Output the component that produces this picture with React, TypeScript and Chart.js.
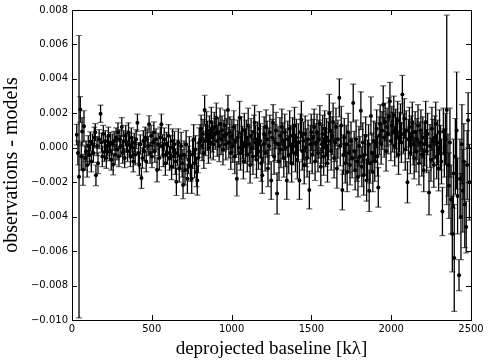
import React, { useEffect, useRef } from "react";
import { Chart, registerables } from "chart.js";

Chart.register(...registerables);

// deprojected baseline [kλ]
const baselines: number[] = [
  30, 37, 44, 52, 58, 63, 69, 75, 82, 88, 95, 102,
  108, 115, 121, 128, 134, 140, 146, 150, 157, 163,
  170, 179, 185, 190, 196, 203, 209, 215, 222, 228,
  234, 240, 246, 252, 258, 264, 270, 276, 282, 288,
  294, 300, 306, 312, 318, 324, 330, 336, 342, 348,
  354, 360, 366, 372, 378, 384, 390, 396, 402, 410,
  416, 422, 428, 435, 441, 447, 453, 459, 465, 471,
  477, 483, 489, 495,
  501, 507, 513, 519, 526, 533, 540, 547, 553, 560,
  566, 572, 578, 585, 592, 598, 605, 611, 618, 624,
  630, 636, 642, 648, 654, 660, 666, 672, 678, 684,
  690, 696, 702, 708, 715, 723, 729, 735, 742, 750,
  756, 762, 768, 774, 780, 785, 791, 797,
  803, 809, 815, 821, 826, 831, 837, 843, 849, 855,
  861, 867, 873, 879, 885, 891, 897, 904, 910, 916,
  922, 928, 934, 940, 946, 952, 958, 964, 970, 977,
  983, 989, 995,
  1002, 1008, 1014, 1020, 1026, 1033, 1039, 1045, 1050, 1056,
  1062, 1068, 1074, 1080, 1086, 1092, 1098, 1104, 1110, 1116,
  1122, 1128, 1134, 1140, 1144, 1150, 1156, 1162, 1168, 1174,
  1180, 1186, 1192, 1198, 1204, 1210, 1216, 1222, 1228, 1234,
  1240, 1248, 1254, 1260, 1266, 1272, 1278, 1285, 1291, 1297,
  1303, 1309, 1315, 1321, 1327, 1333, 1339, 1346, 1352, 1358,
  1364, 1370, 1376, 1382, 1388, 1394, 1400, 1406, 1412, 1418,
  1425, 1431, 1437, 1443, 1449, 1455, 1461, 1467, 1473, 1479,
  1487, 1493, 1499,
  1505, 1511, 1517, 1523, 1529, 1535, 1541, 1547, 1553, 1559,
  1565, 1571, 1577, 1583, 1589, 1595, 1601, 1607, 1612, 1618,
  1624, 1630, 1636, 1642, 1648, 1654, 1660, 1666, 1675, 1681,
  1687, 1694, 1700,
  1706, 1712, 1718, 1724, 1730, 1736, 1742, 1748, 1755, 1762,
  1768, 1774, 1780, 1786, 1792, 1798, 1804, 1810, 1816, 1822,
  1828, 1834, 1840, 1846, 1852, 1858, 1862, 1868, 1873, 1879,
  1885, 1891, 1897,
  1903, 1909, 1914, 1919, 1925, 1931, 1937, 1943, 1950, 1956,
  1962, 1968, 1974, 1980, 1986, 1992, 1998, 2004, 2010, 2016,
  2022, 2028, 2034, 2040, 2046, 2052, 2058, 2064, 2070, 2076,
  2082, 2088, 2094, 2102, 2108, 2114, 2120, 2126, 2132, 2138,
  2144,
  2150, 2156, 2162, 2168, 2174, 2180, 2186, 2192, 2198, 2204,
  2210, 2216, 2222, 2228, 2237, 2243, 2249, 2255, 2261, 2267,
  2273, 2279, 2285, 2291, 2297, 2303, 2309, 2315, 2321, 2327,
  2333, 2340,
  2348, 2356, 2362, 2368, 2375, 2383, 2390, 2395, 2402, 2410,
  2416, 2425, 2431, 2437, 2443, 2449, 2455, 2461, 2470, 2476,
  2482, 2490,
];

// observations - models, in units of 1e-3
const residualsE3: number[] = [
  0.76, -0.3, -1.68, 2.22, -0.5, 0.95, -1.28, 1.25, -0.6, -0.2, -1.0, 0.1,
  -0.4, 0.37, -0.8, 0.2, -0.3, 0.6, 0.9, -1.6, 0.1, -0.9,
  0.5, 1.98, 0.3, -0.5, 0.8, -0.24, 0.4, -0.6, 0.1, 0.7,
  -0.2, 0.3, -0.7, 0.2, -0.97, 0.4, -0.4, 0.6, -0.1, 0.9,
  -0.5, 0.5, 0.1, 1.2, -0.3, 0.4, -0.6, 0.7, 0.3, -0.2,
  0.9, 0.2, -0.5, 0.6, 0.0, -0.8, 0.3, -0.4, 0.5, 1.45,
  -0.3, -1.0, 0.2, -1.76, -0.6, 0.4, -0.2, 0.6, -0.8, 0.5,
  0.1, 1.36, -0.3, 0.7,
  -0.5, 0.3, 0.9, -0.2, 0.5, -1.28, 0.2, -0.6, 0.6, 1.36,
  0.1, -0.4, 0.5, -0.9, 0.2, -0.3, 0.7, -0.6, 0.0, -1.1,
  0.4, -0.5, 0.2, -0.8, -1.97, -0.3, 0.3, -1.2, -0.5, 0.1,
  -0.9, -2.16, -0.4, -1.3, 0.2, -1.8, -0.7, -0.2, -1.1, -1.8,
  -0.4, 0.5, -0.9, -0.1, -1.4, -1.9, -0.6, 0.3,
  0.5, 1.1, 0.1, 0.8, -0.3, 2.2, 0.4, 1.3, 0.7, 0.0,
  1.0, 0.3, 1.5, 0.6, 0.2, 1.2, 0.8, 1.75, 0.4, 0.9,
  0.1, 1.4, 0.5, 1.0, -0.1, 0.7, 1.3, 0.2, 0.8, 2.2,
  0.3, 0.9, -0.3,
  0.7, 0.1, 1.2, -0.5, 0.4, -1.8, 0.6, 0.0, 1.75, -0.3,
  0.8, 0.3, -0.8, 1.0, 0.1, 0.6, -0.4, 1.3, 0.2, -1.0,
  0.7, 0.0, -0.5, 0.9, 1.46, 0.3, -0.7, 0.5, -0.2, 1.1,
  0.4, -0.9, -1.6, 0.2, 0.8, -0.3, 1.2, 0.5, -1.2, 0.1,
  0.9, -1.9, 0.6, 1.46, -0.5, 0.3, 1.0, -2.65, 0.2, -0.8,
  0.7, -0.1, 1.2, 0.4, -0.6, 0.9, 0.0, -1.9, 0.5, -0.4,
  1.1, 0.2, -0.9, 0.7, 0.1, 1.3, -0.3, 0.6, -0.7, 0.3,
  -1.9, 0.9, 1.64, -0.2, 0.4, -1.0, 0.8, 0.0, -0.6, 0.5,
  -2.45, 0.2, 0.9,
  -0.4, 0.6, 1.2, -0.8, 0.3, 0.9, -0.3, 0.5, 1.4, -1.1,
  0.2, 0.8, -0.5, 1.1, 0.0, 0.6, -0.9, 0.4, 2.0, 1.0,
  -0.2, 0.7, 1.5, -0.6, 0.3, 1.2, -1.2, 0.5, 2.9, 0.1,
  1.3, -2.45, -0.4,
  0.6, -0.9, 0.2, -1.4, 0.9, -0.3, -1.0, 0.4, -0.6, 2.6,
  -0.2, -1.3, 0.5, -0.8, -1.7, 0.1, -0.5, 2.15, -1.1, 0.3,
  -1.6, -0.4, 0.7, -1.9, -0.7, 0.2, -2.5, -0.9, 1.85, -0.3,
  -1.4, 0.4, -0.8,
  0.3, 1.1, -0.5, -2.3, 0.7, 1.4, 0.2, 1.0, 2.5, 0.6,
  1.5, -0.2, 1.2, 0.8, 1.8, 2.7, 0.4, 1.3, 0.9, 1.9,
  0.1, 1.1, 0.6, 1.6, -0.4, 0.9, 1.4, 0.3, 3.1, 0.8,
  1.7, -0.1, 1.0, -2.0, 0.5, 1.2, -0.3, 0.7, 1.5, 0.2,
  -0.6,
  0.9, -0.2, 0.5, 1.3, -0.9, 0.3, 1.0, -0.4, 0.6, -1.3,
  0.2, 1.5, -0.2, 0.8, -2.6, 0.1, -0.7, 1.1, 0.4, -1.0,
  0.6, 1.4, -0.5, 0.3, -1.2, 0.9, 0.0, -0.8, -3.7, 0.95,
  -0.3, 0.5,
  2.2, -1.0, -2.2, 0.3, -3.0, -5.0, -1.5, -6.4, -0.5, 1.0,
  -2.8, -7.4, -1.8, -4.0, 0.2, -2.5, -0.8, -3.3, -4.6, -1.0,
  1.6, -2.0,
];

// 1-sigma uncertainties, in units of 1e-3
const errorsE3: number[] = [
  0.6, 0.7, 8.2, 0.75, 0.8, 0.8, 0.9, 0.9, 0.7, 0.6, 0.7, 0.6,
  0.6, 0.55, 0.6, 0.6, 0.55, 0.6, 0.5, 0.6, 0.55, 0.6,
  0.55, 0.5, 0.55, 0.6, 0.5, 0.55, 0.6, 0.6, 0.55, 0.5,
  0.55, 0.6, 0.6, 0.6, 0.6, 0.55, 0.6, 0.55, 0.6, 0.55,
  0.6, 0.55, 0.6, 0.55, 0.6, 0.6, 0.55, 0.6, 0.55, 0.6,
  0.55, 0.6, 0.6, 0.55, 0.6, 0.6, 0.55, 0.6, 0.55, 0.5,
  0.6, 0.6, 0.55, 0.6, 0.6, 0.6, 0.55, 0.6, 0.6, 0.6,
  0.55, 0.5, 0.6, 0.6,
  0.65, 0.6, 0.6, 0.65, 0.6, 0.7, 0.65, 0.7, 0.6, 0.6,
  0.65, 0.7, 0.65, 0.7, 0.7, 0.65, 0.65, 0.7, 0.7, 0.75,
  0.7, 0.7, 0.75, 0.75, 0.8, 0.75, 0.8, 0.8, 0.75, 0.8,
  0.8, 0.8, 0.8, 0.85, 0.8, 0.85, 0.8, 0.85, 0.85, 0.85,
  0.8, 0.85, 0.85, 0.8, 0.85, 0.85, 0.85, 0.85,
  0.85, 0.8, 0.85, 0.85, 0.9, 0.85, 0.85, 0.8, 0.85, 0.9,
  0.85, 0.9, 0.85, 0.85, 0.9, 0.85, 0.9, 0.85, 0.9, 0.85,
  0.9, 0.9, 0.9, 0.85, 0.9, 0.9, 0.9, 0.9, 0.9, 0.85,
  0.9, 0.9, 0.95,
  0.95, 0.95, 0.95, 1.0, 0.95, 1.0, 1.0, 0.95, 0.95, 1.0,
  1.0, 0.95, 1.0, 1.0, 1.0, 1.0, 1.0, 1.0, 1.0, 1.05,
  1.0, 1.0, 1.05, 1.0, 1.0, 1.0, 1.05, 1.0, 1.05, 1.0,
  1.0, 1.05, 1.05, 1.05, 1.0, 1.05, 1.0, 1.05, 1.05, 1.05,
  1.0, 1.1, 1.05, 1.05, 1.05, 1.05, 1.05, 1.2, 1.05, 1.1,
  1.05, 1.05, 1.05, 1.05, 1.1, 1.05, 1.1, 1.1, 1.05, 1.1,
  1.05, 1.1, 1.1, 1.05, 1.1, 1.05, 1.1, 1.05, 1.1, 1.1,
  1.1, 1.05, 1.05, 1.1, 1.1, 1.1, 1.05, 1.1, 1.1, 1.1,
  1.1, 1.1, 1.05,
  1.1, 1.05, 1.05, 1.1, 1.1, 1.05, 1.1, 1.1, 1.05, 1.1,
  1.1, 1.1, 1.1, 1.05, 1.1, 1.1, 1.1, 1.1, 1.1, 1.1,
  1.1, 1.1, 1.1, 1.15, 1.1, 1.1, 1.15, 1.1, 1.1, 1.15,
  1.1, 1.15, 1.15,
  1.1, 1.15, 1.1, 1.15, 1.1, 1.15, 1.15, 1.1, 1.15, 1.1,
  1.15, 1.15, 1.1, 1.15, 1.15, 1.15, 1.15, 1.1, 1.15, 1.15,
  1.15, 1.15, 1.1, 1.2, 1.15, 1.15, 1.2, 1.15, 1.1, 1.15,
  1.15, 1.15, 1.15,
  1.15, 1.1, 1.15, 1.15, 1.1, 1.1, 1.15, 1.1, 1.1, 1.15,
  1.1, 1.15, 1.1, 1.15, 1.1, 1.1, 1.15, 1.1, 1.15, 1.1,
  1.15, 1.15, 1.15, 1.1, 1.15, 1.15, 1.15, 1.15, 1.1, 1.15,
  1.15, 1.2, 1.15, 1.2, 1.15, 1.15, 1.2, 1.15, 1.15, 1.2,
  1.2,
  1.2, 1.2, 1.2, 1.2, 1.25, 1.2, 1.2, 1.25, 1.2, 1.25,
  1.25, 1.2, 1.25, 1.2, 1.3, 1.25, 1.25, 1.25, 1.25, 1.3,
  1.25, 1.25, 1.3, 1.3, 1.3, 1.3, 1.3, 1.3, 1.4, 1.35,
  1.4, 1.5,
  5.5, 1.8, 1.9, 2.0, 2.0, 2.2, 2.0, 3.1, 2.2, 3.4,
  2.2, 0.9, 2.3, 2.5, 2.3, 2.4, 2.2, 2.5, 1.5, 2.0,
  1.6, 2.2,
];

const xTicks: number[] = [0, 500, 1000, 1500, 2000, 2500];
const yTicks: number[] = [-0.01, -0.008, -0.006, -0.004, -0.002, 0, 0.002, 0.004, 0.006, 0.008];

const fmtY = (v: number) => {
  if (Math.abs(v) < 1e-12) return "0.000";
  return (v < 0 ? "\u2212" : "") + Math.abs(v).toFixed(3);
};

const errorBarPlugin = {
  id: "errorBars",
  beforeDatasetsDraw(chart: any) {
    const { ctx, chartArea, scales } = chart;
    const xs = scales.x;
    const ys = scales.y;
    ctx.save();
    ctx.beginPath();
    ctx.rect(chartArea.left, chartArea.top, chartArea.right - chartArea.left, chartArea.bottom - chartArea.top);
    ctx.clip();
    const n = Math.min(baselines.length, residualsE3.length, errorsE3.length);
    // caps first (grey), then the black stems on top
    ctx.strokeStyle = "#6e6e6e";
    ctx.lineWidth = 1.2;
    ctx.beginPath();
    for (let i = 0; i < n; i++) {
      const px = xs.getPixelForValue(baselines[i]);
      const v = residualsE3[i] / 1000;
      const e = errorsE3[i] / 1000;
      const yTop = ys.getPixelForValue(v + e);
      const yBot = ys.getPixelForValue(v - e);
      ctx.moveTo(px - 3, yTop);
      ctx.lineTo(px + 3, yTop);
      ctx.moveTo(px - 3, yBot);
      ctx.lineTo(px + 3, yBot);
    }
    ctx.stroke();
    ctx.strokeStyle = "#000";
    ctx.lineWidth = 1.3;
    for (let i = 0; i < n; i++) {
      const px = xs.getPixelForValue(baselines[i]);
      const v = residualsE3[i] / 1000;
      const e = errorsE3[i] / 1000;
      const yTop = ys.getPixelForValue(v + e);
      const yBot = ys.getPixelForValue(v - e);
      ctx.beginPath();
      ctx.moveTo(px, yTop);
      ctx.lineTo(px, yBot);
      ctx.stroke();
    }
    ctx.restore();
  },
};

const framePlugin = {
  id: "frameTicks",
  afterDraw(chart: any) {
    const { ctx, chartArea, scales } = chart;
    const { left, right, top, bottom } = chartArea;
    ctx.save();
    ctx.strokeStyle = "#000";
    ctx.lineWidth = 1;
    ctx.beginPath();
    for (const t of xTicks) {
      const px = Math.round(scales.x.getPixelForValue(t)) + 0.5;
      ctx.moveTo(px, bottom);
      ctx.lineTo(px, bottom - 5);
      ctx.moveTo(px, top);
      ctx.lineTo(px, top + 5);
    }
    for (const t of yTicks) {
      const py = Math.round(scales.y.getPixelForValue(t)) + 0.5;
      ctx.moveTo(left, py);
      ctx.lineTo(left + 5, py);
      ctx.moveTo(right, py);
      ctx.lineTo(right - 5, py);
    }
    ctx.stroke();
    ctx.strokeRect(Math.round(left) + 0.5, Math.round(top) + 0.5, Math.round(right - left), Math.round(bottom - top));
    ctx.restore();
  },
};

export default function App() {
  const canvasRef = useRef<HTMLCanvasElement | null>(null);

  useEffect(() => {
    document.body.style.margin = "0";
    const canvas = canvasRef.current;
    if (!canvas) return;
    const points = baselines.map((b, i) => ({ x: b, y: residualsE3[i] / 1000 }));
    const chart = new Chart(canvas, {
      type: "scatter",
      data: {
        datasets: [
          {
            label: "residuals",
            data: points,
            pointRadius: 2,
            pointHoverRadius: 2,
            pointBackgroundColor: "#000",
            pointBorderWidth: 0,
            showLine: false,
          },
        ],
      },
      options: {
        responsive: false,
        animation: false,
        events: [],
        layout: { padding: { top: 10, right: 19, left: 0, bottom: 0 } },
        plugins: {
          legend: { display: false },
          tooltip: { enabled: false },
        },
        scales: {
          x: {
            type: "linear",
            min: 0,
            max: 2500,
            grid: { display: false, drawTicks: false },
            border: { display: false },
            afterBuildTicks: (scale: any) => {
              scale.ticks = xTicks.map((v) => ({ value: v }));
            },
            ticks: {
              color: "#000",
              font: { family: "'DejaVu Sans', sans-serif", size: 10 },
              padding: 3,
              maxRotation: 0,
              callback: (v: any) => String(v),
            },
            title: {
              display: true,
              text: "deprojected baseline [k\u03bb]",
              color: "#000",
              font: { family: "'Liberation Serif', 'Times New Roman', serif", size: 19 },
              padding: { top: 0, bottom: 3 },
            },
            afterFit: (scale: any) => {
              scale.height = 43;
            },
          },
          y: {
            type: "linear",
            min: -0.01,
            max: 0.008,
            grid: { display: false, drawTicks: false },
            border: { display: false },
            afterBuildTicks: (scale: any) => {
              scale.ticks = yTicks.map((v) => ({ value: v }));
            },
            ticks: {
              color: "#000",
              font: { family: "'DejaVu Sans', sans-serif", size: 10 },
              padding: 4,
              callback: (v: any) => fmtY(Number(v)),
            },
            title: {
              display: true,
              text: "observations - models",
              color: "#000",
              font: { family: "'Liberation Serif', 'Times New Roman', serif", size: 20 },
              padding: { top: 0, bottom: 4 },
            },
            afterFit: (scale: any) => {
              scale.width = 72;
            },
          },
        },
      },
      plugins: [errorBarPlugin, framePlugin],
    });
    return () => chart.destroy();
  }, []);

  return (
    <div style={{ width: 490, height: 363 }}>
      <canvas ref={canvasRef} width={490} height={363} style={{ display: "block" }} />
    </div>
  );
}
